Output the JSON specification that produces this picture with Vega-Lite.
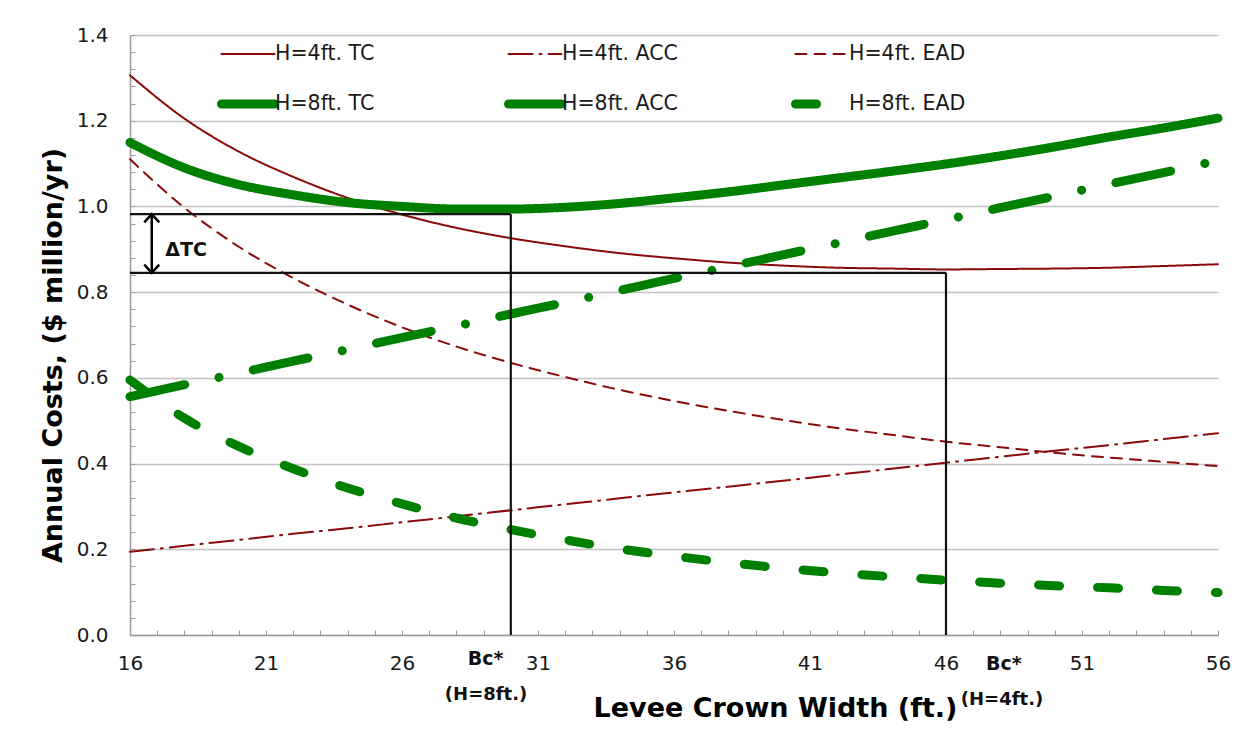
{
  "$schema": "https://vega.github.io/schema/vega-lite/v6.json",
  "width": 1088,
  "height": 600,
  "autosize": "none",
  "padding": {"left": 130, "top": 35, "right": 32, "bottom": 95},
  "background": "white",
  "config": {"view": {"stroke": null}, "font": "DejaVu Sans"},
  "layer": [
    {
      "data": {"values": [
        {"w": 16, "cost": 1.306, "series": "H=4ft. TC"},
        {"w": 18, "cost": 1.205, "series": "H=4ft. TC"},
        {"w": 20, "cost": 1.128, "series": "H=4ft. TC"},
        {"w": 22, "cost": 1.069, "series": "H=4ft. TC"},
        {"w": 24, "cost": 1.02, "series": "H=4ft. TC"},
        {"w": 26, "cost": 0.981, "series": "H=4ft. TC"},
        {"w": 28, "cost": 0.95, "series": "H=4ft. TC"},
        {"w": 30, "cost": 0.926, "series": "H=4ft. TC"},
        {"w": 32, "cost": 0.907, "series": "H=4ft. TC"},
        {"w": 34, "cost": 0.891, "series": "H=4ft. TC"},
        {"w": 36, "cost": 0.879, "series": "H=4ft. TC"},
        {"w": 38, "cost": 0.869, "series": "H=4ft. TC"},
        {"w": 40, "cost": 0.862, "series": "H=4ft. TC"},
        {"w": 42, "cost": 0.857, "series": "H=4ft. TC"},
        {"w": 44, "cost": 0.855, "series": "H=4ft. TC"},
        {"w": 46, "cost": 0.853, "series": "H=4ft. TC"},
        {"w": 48, "cost": 0.854, "series": "H=4ft. TC"},
        {"w": 50, "cost": 0.855, "series": "H=4ft. TC"},
        {"w": 52, "cost": 0.857, "series": "H=4ft. TC"},
        {"w": 54, "cost": 0.861, "series": "H=4ft. TC"},
        {"w": 56, "cost": 0.865, "series": "H=4ft. TC"},

        {"w": 16, "cost": 0.194, "series": "H=4ft. ACC"},
        {"w": 18, "cost": 0.208, "series": "H=4ft. ACC"},
        {"w": 20, "cost": 0.222, "series": "H=4ft. ACC"},
        {"w": 22, "cost": 0.236, "series": "H=4ft. ACC"},
        {"w": 24, "cost": 0.249, "series": "H=4ft. ACC"},
        {"w": 26, "cost": 0.263, "series": "H=4ft. ACC"},
        {"w": 28, "cost": 0.277, "series": "H=4ft. ACC"},
        {"w": 30, "cost": 0.291, "series": "H=4ft. ACC"},
        {"w": 32, "cost": 0.305, "series": "H=4ft. ACC"},
        {"w": 34, "cost": 0.319, "series": "H=4ft. ACC"},
        {"w": 36, "cost": 0.333, "series": "H=4ft. ACC"},
        {"w": 38, "cost": 0.346, "series": "H=4ft. ACC"},
        {"w": 40, "cost": 0.36, "series": "H=4ft. ACC"},
        {"w": 42, "cost": 0.374, "series": "H=4ft. ACC"},
        {"w": 44, "cost": 0.388, "series": "H=4ft. ACC"},
        {"w": 46, "cost": 0.402, "series": "H=4ft. ACC"},
        {"w": 48, "cost": 0.416, "series": "H=4ft. ACC"},
        {"w": 50, "cost": 0.43, "series": "H=4ft. ACC"},
        {"w": 52, "cost": 0.443, "series": "H=4ft. ACC"},
        {"w": 54, "cost": 0.457, "series": "H=4ft. ACC"},
        {"w": 56, "cost": 0.471, "series": "H=4ft. ACC"},

        {"w": 16, "cost": 1.11, "series": "H=4ft. EAD"},
        {"w": 18, "cost": 0.997, "series": "H=4ft. EAD"},
        {"w": 20, "cost": 0.906, "series": "H=4ft. EAD"},
        {"w": 22, "cost": 0.833, "series": "H=4ft. EAD"},
        {"w": 24, "cost": 0.771, "series": "H=4ft. EAD"},
        {"w": 26, "cost": 0.718, "series": "H=4ft. EAD"},
        {"w": 28, "cost": 0.673, "series": "H=4ft. EAD"},
        {"w": 30, "cost": 0.635, "series": "H=4ft. EAD"},
        {"w": 32, "cost": 0.602, "series": "H=4ft. EAD"},
        {"w": 34, "cost": 0.572, "series": "H=4ft. EAD"},
        {"w": 36, "cost": 0.546, "series": "H=4ft. EAD"},
        {"w": 38, "cost": 0.523, "series": "H=4ft. EAD"},
        {"w": 40, "cost": 0.502, "series": "H=4ft. EAD"},
        {"w": 42, "cost": 0.483, "series": "H=4ft. EAD"},
        {"w": 44, "cost": 0.467, "series": "H=4ft. EAD"},
        {"w": 46, "cost": 0.451, "series": "H=4ft. EAD"},
        {"w": 48, "cost": 0.438, "series": "H=4ft. EAD"},
        {"w": 50, "cost": 0.425, "series": "H=4ft. EAD"},
        {"w": 52, "cost": 0.414, "series": "H=4ft. EAD"},
        {"w": 54, "cost": 0.404, "series": "H=4ft. EAD"},
        {"w": 56, "cost": 0.394, "series": "H=4ft. EAD"},

        {"w": 16, "cost": 1.149, "series": "H=8ft. TC"},
        {"w": 18, "cost": 1.09, "series": "H=8ft. TC"},
        {"w": 20, "cost": 1.051, "series": "H=8ft. TC"},
        {"w": 22, "cost": 1.027, "series": "H=8ft. TC"},
        {"w": 24, "cost": 1.009, "series": "H=8ft. TC"},
        {"w": 26, "cost": 1.0, "series": "H=8ft. TC"},
        {"w": 28, "cost": 0.994, "series": "H=8ft. TC"},
        {"w": 30, "cost": 0.994, "series": "H=8ft. TC"},
        {"w": 32, "cost": 0.998, "series": "H=8ft. TC"},
        {"w": 34, "cost": 1.007, "series": "H=8ft. TC"},
        {"w": 36, "cost": 1.02, "series": "H=8ft. TC"},
        {"w": 38, "cost": 1.034, "series": "H=8ft. TC"},
        {"w": 40, "cost": 1.05, "series": "H=8ft. TC"},
        {"w": 42, "cost": 1.066, "series": "H=8ft. TC"},
        {"w": 44, "cost": 1.082, "series": "H=8ft. TC"},
        {"w": 46, "cost": 1.099, "series": "H=8ft. TC"},
        {"w": 48, "cost": 1.118, "series": "H=8ft. TC"},
        {"w": 50, "cost": 1.139, "series": "H=8ft. TC"},
        {"w": 52, "cost": 1.162, "series": "H=8ft. TC"},
        {"w": 54, "cost": 1.183, "series": "H=8ft. TC"},
        {"w": 56, "cost": 1.206, "series": "H=8ft. TC"},

        {"w": 16, "cost": 0.556, "series": "H=8ft. ACC"},
        {"w": 18, "cost": 0.584, "series": "H=8ft. ACC"},
        {"w": 20, "cost": 0.611, "series": "H=8ft. ACC"},
        {"w": 22, "cost": 0.639, "series": "H=8ft. ACC"},
        {"w": 24, "cost": 0.666, "series": "H=8ft. ACC"},
        {"w": 26, "cost": 0.694, "series": "H=8ft. ACC"},
        {"w": 28, "cost": 0.721, "series": "H=8ft. ACC"},
        {"w": 30, "cost": 0.749, "series": "H=8ft. ACC"},
        {"w": 32, "cost": 0.776, "series": "H=8ft. ACC"},
        {"w": 34, "cost": 0.804, "series": "H=8ft. ACC"},
        {"w": 36, "cost": 0.832, "series": "H=8ft. ACC"},
        {"w": 38, "cost": 0.859, "series": "H=8ft. ACC"},
        {"w": 40, "cost": 0.887, "series": "H=8ft. ACC"},
        {"w": 42, "cost": 0.914, "series": "H=8ft. ACC"},
        {"w": 44, "cost": 0.942, "series": "H=8ft. ACC"},
        {"w": 46, "cost": 0.969, "series": "H=8ft. ACC"},
        {"w": 48, "cost": 0.997, "series": "H=8ft. ACC"},
        {"w": 50, "cost": 1.024, "series": "H=8ft. ACC"},
        {"w": 52, "cost": 1.052, "series": "H=8ft. ACC"},
        {"w": 54, "cost": 1.079, "series": "H=8ft. ACC"},
        {"w": 56, "cost": 1.107, "series": "H=8ft. ACC"},

        {"w": 16, "cost": 0.595, "series": "H=8ft. EAD"},
        {"w": 18, "cost": 0.506, "series": "H=8ft. EAD"},
        {"w": 20, "cost": 0.44, "series": "H=8ft. EAD"},
        {"w": 22, "cost": 0.388, "series": "H=8ft. EAD"},
        {"w": 24, "cost": 0.343, "series": "H=8ft. EAD"},
        {"w": 26, "cost": 0.306, "series": "H=8ft. EAD"},
        {"w": 28, "cost": 0.273, "series": "H=8ft. EAD"},
        {"w": 30, "cost": 0.246, "series": "H=8ft. EAD"},
        {"w": 32, "cost": 0.222, "series": "H=8ft. EAD"},
        {"w": 34, "cost": 0.201, "series": "H=8ft. EAD"},
        {"w": 36, "cost": 0.184, "series": "H=8ft. EAD"},
        {"w": 38, "cost": 0.169, "series": "H=8ft. EAD"},
        {"w": 40, "cost": 0.156, "series": "H=8ft. EAD"},
        {"w": 42, "cost": 0.145, "series": "H=8ft. EAD"},
        {"w": 44, "cost": 0.136, "series": "H=8ft. EAD"},
        {"w": 46, "cost": 0.128, "series": "H=8ft. EAD"},
        {"w": 48, "cost": 0.121, "series": "H=8ft. EAD"},
        {"w": 50, "cost": 0.115, "series": "H=8ft. EAD"},
        {"w": 52, "cost": 0.11, "series": "H=8ft. EAD"},
        {"w": 54, "cost": 0.104, "series": "H=8ft. EAD"},
        {"w": 56, "cost": 0.099, "series": "H=8ft. EAD"}
      ]},
      "mark": {"type": "line", "interpolate": "monotone", "strokeCap": "round", "strokeJoin": "round"},
      "encoding": {
        "x": {
          "field": "w", "type": "quantitative",
          "scale": {"domain": [16, 56], "nice": false, "zero": false},
          "axis": {
            "orient": "bottom",
            "tickCount": 200,
            "format": "d",
            "values": [16,17,18,19,20,21,22,23,24,25,26,27,28,29,30,31,32,33,34,35,36,37,38,39,40,41,42,43,44,45,46,47,48,49,50,51,52,53,54,55,56],
            "labelExpr": "(datum.value - 16) % 5 == 0 ? format(datum.value, 'd') : ''",
            "grid": false,
            "tickSize": -5, "tickColor": "#9a9a9a", "tickWidth": 1,
            "domainColor": "#9a9a9a", "domainWidth": 1.5,
            "labelFont": "DejaVu Sans", "labelFontSize": 20, "labelColor": "#1a1a1a", "labelPadding": 23,
            "labelFlush": false, "labelOverlap": false,
            "title": "Levee Crown Width (ft.)",
            "titleFont": "DejaVu Sans", "titleFontSize": 27, "titleFontWeight": "bold", "titleColor": "#000000",
            "titlePadding": 22, "titleX": 645
          }
        },
        "y": {
          "field": "cost", "type": "quantitative",
          "scale": {"domain": [0, 1.4], "nice": false, "zero": true},
          "axis": {
            "orient": "left",
            "tickCount": 200,
            "values": [0,0.04,0.08,0.12,0.16,0.2,0.24,0.28,0.32,0.36,0.4,0.44,0.48,0.52,0.56,0.6,0.64,0.68,0.72,0.76,0.8,0.84,0.88,0.92,0.96,1.0,1.04,1.08,1.12,1.16,1.2,1.24,1.28,1.32,1.36,1.4],
            "labelExpr": "abs(datum.value * 5 - round(datum.value * 5)) < 0.001 ? format(datum.value, '.1f') : ''",
            "grid": true,
            "gridColor": "#c4c4c4", "gridWidth": 1.5,
            "gridOpacity": {"condition": {"test": "abs(datum.value * 5 - round(datum.value * 5)) < 0.001", "value": 1}, "value": 0},
            "tickSize": -5, "tickColor": "#9a9a9a", "tickWidth": 1,
            "domainColor": "#9a9a9a", "domainWidth": 1.5,
            "labelFont": "DejaVu Sans", "labelFontSize": 20, "labelColor": "#1a1a1a", "labelPadding": 27,
            "labelFlush": false, "labelOverlap": false,
            "title": "Annual Costs, ($ million/yr)",
            "titleFont": "DejaVu Sans", "titleFontSize": 27, "titleFontWeight": "bold", "titleColor": "#000000",
            "titlePadding": 9, "titleY": 320
          }
        },
        "color": {
          "field": "series", "type": "nominal",
          "scale": {
            "domain": ["H=4ft. TC", "H=8ft. TC", "H=4ft. ACC", "H=8ft. ACC", "H=4ft. EAD", "H=8ft. EAD"],
            "range": ["#8b0a0a", "#008000", "#8b0a0a", "#008000", "#8b0a0a", "#008000"]
          },
          "legend": {
            "orient": "none", "legendX": 87, "legendY": -14,
            "columns": 3, "title": null, "gridAlign": "all",
            "symbolType": "stroke", "symbolSize": 2809,
            "labelFont": "DejaVu Sans", "labelFontSize": 20.5, "labelColor": "#1a1a1a",
            "labelOffset": -4, "labelLimit": 0,
            "columnPadding": 98, "rowPadding": 3, "padding": 0,
            "encode": {"symbols": {"update": {"strokeCap": {"value": "round"}}}}
          }
        },
        "strokeDash": {
          "field": "series", "type": "nominal",
          "scale": {
            "domain": ["H=4ft. TC", "H=8ft. TC", "H=4ft. ACC", "H=8ft. ACC", "H=4ft. EAD", "H=8ft. EAD"],
            "range": [[1, 0], [1, 0], [24, 7, 2, 7], [56, 35, 0.1, 35], [11, 8], [21, 38]]
          }
        },
        "strokeWidth": {
          "field": "series", "type": "nominal",
          "scale": {
            "type": "ordinal",
            "domain": ["H=4ft. TC", "H=8ft. TC", "H=4ft. ACC", "H=8ft. ACC", "H=4ft. EAD", "H=8ft. EAD"],
            "range": [2, 9, 2, 9, 2, 9]
          }
        },
        "order": {"field": "series", "sort": "ascending"}
      }
    },
    {
      "data": {"values": [
        {"x1": 16, "x2": 30, "y1": 0.982, "y2": 0.982},
        {"x1": 30, "x2": 30, "y1": 0, "y2": 0.982},
        {"x1": 16, "x2": 46, "y1": 0.845, "y2": 0.845},
        {"x1": 46, "x2": 46, "y1": 0, "y2": 0.845}
      ]},
      "mark": {"type": "rule", "color": "#111111", "strokeWidth": 2.2},
      "encoding": {
        "x": {"field": "x1", "type": "quantitative"},
        "x2": {"field": "x2"},
        "y": {"field": "y1", "type": "quantitative"},
        "y2": {"field": "y2"}
      }
    },
    {
      "data": {"values": [{"w": 16.8, "top": 0.982, "bottom": 0.845}]},
      "mark": {"type": "rule", "color": "#000000", "strokeWidth": 2.5},
      "encoding": {
        "x": {"field": "w", "type": "quantitative"},
        "y": {"field": "top", "type": "quantitative"},
        "y2": {"field": "bottom"}
      }
    },
    {
      "data": {"values": [{"w": 16.8, "cost": 0.982}]},
      "mark": {"type": "point", "shape": "M-1,1.1L0,0L1,1.1", "size": 225, "filled": false, "stroke": "#000000", "strokeWidth": 2.5, "opacity": 1},
      "encoding": {
        "x": {"field": "w", "type": "quantitative"},
        "y": {"field": "cost", "type": "quantitative"}
      }
    },
    {
      "data": {"values": [{"w": 16.8, "cost": 0.845}]},
      "mark": {"type": "point", "shape": "M-1,-1.1L0,0L1,-1.1", "size": 225, "filled": false, "stroke": "#000000", "strokeWidth": 2.5, "opacity": 1},
      "encoding": {
        "x": {"field": "w", "type": "quantitative"},
        "y": {"field": "cost", "type": "quantitative"}
      }
    },
    {
      "data": {"values": [{"w": 18.06, "cost": 0.884, "label": "ΔTC"}]},
      "mark": {"type": "text", "font": "DejaVu Sans", "fontWeight": "bold", "fontSize": 19, "align": "center", "baseline": "alphabetic", "color": "#111111"},
      "encoding": {
        "x": {"field": "w", "type": "quantitative"},
        "y": {"field": "cost", "type": "quantitative"},
        "text": {"field": "label"}
      }
    },
    {
      "data": {"values": [
        {"w": 29.07, "cost": -0.07, "label": "Bc*"},
        {"w": 48.13, "cost": -0.082, "label": "Bc*"}
      ]},
      "mark": {"type": "text", "font": "DejaVu Sans", "fontWeight": "bold", "fontSize": 19, "align": "center", "baseline": "alphabetic", "color": "#111111"},
      "encoding": {
        "x": {"field": "w", "type": "quantitative"},
        "y": {"field": "cost", "type": "quantitative"},
        "text": {"field": "label"}
      }
    },
    {
      "data": {"values": [
        {"w": 29.09, "cost": -0.152, "label": "(H=8ft.)"},
        {"w": 48.06, "cost": -0.163, "label": "(H=4ft.)"}
      ]},
      "mark": {"type": "text", "font": "DejaVu Sans", "fontWeight": "bold", "fontSize": 18, "align": "center", "baseline": "alphabetic", "color": "#111111"},
      "encoding": {
        "x": {"field": "w", "type": "quantitative"},
        "y": {"field": "cost", "type": "quantitative"},
        "text": {"field": "label"}
      }
    }
  ]
}
